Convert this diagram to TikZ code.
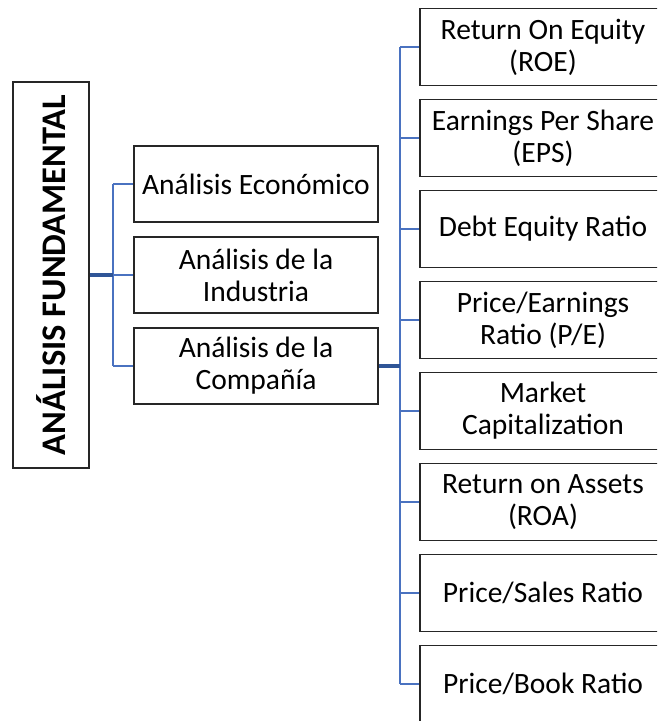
\documentclass[tikz,border=0pt]{standalone}
\usepackage{fontspec}
\setmainfont{Carlito}
\usetikzlibrary{positioning,calc}
\definecolor{lnkBlue}{HTML}{4A72C0}
\definecolor{busBlue}{HTML}{2F5597}
\begin{document}
\begin{tikzpicture}[x=1pt,y=-1pt,
  box/.style={draw=black!85,line width=1.8pt,fill=white,align=center,inner sep=0pt,
    font=\fontsize{29.5}{32}\selectfont},
  lvl/.style={box,minimum width=244pt,minimum height=76pt},
  rat/.style={box,minimum width=246pt,minimum height=77pt},
  ttl/.style={box,rotate=90,minimum width=386pt,minimum height=76pt,
    font=\fontsize{34.5}{40}\selectfont\bfseries},
  lnk/.style={lnkBlue,line width=2.8pt},
  bus/.style={busBlue,line width=4.5pt}]
  \useasboundingbox (0,0) rectangle (657,721);
  \clip (0,0) rectangle (657,721);
  \node[ttl] (title) at (51,275) {ANÁLISIS FUNDAMENTAL};
  \node[lvl] (eco) at (256,184) {Análisis Económico};
  \node[lvl] (ind) at (256,275) {Análisis de la\\ Industria};
  \node[lvl] (comp) at (256,366) {Análisis de la\\ Compañía};
  \node[rat] (roe) at (543,47) {Return On Equity\\ (ROE)};
  \node[rat] (eps) at (543,138) {Earnings Per Share\\ (EPS)};
  \node[rat] (der) at (543,229) {Debt Equity Ratio};
  \node[rat] (per) at (543,320) {Price/Earnings\\ Ratio (P/E)};
  \node[rat] (mcap) at (543,411) {Market\\ Capitalization};
  \node[rat] (roa) at (543,502) {Return on Assets\\ (ROA)};
  \node[rat] (psr) at (543,593) {Price/Sales Ratio};
  \node[rat] (pbr) at (543,684) {Price/Book Ratio};
  \coordinate (busL) at (113,275);
  \coordinate (busR) at (400,366);
  \draw[lnk] (busL |- eco.west) -- (busL |- comp.west);
  \foreach \n in {eco,ind,comp}{\draw[lnk] (busL |- \n.west) -- (\n.west);}
  \draw[bus] (title.south) -- (title.south -| busL);
  \draw[lnk] (busR |- roe.west) -- (busR |- pbr.west);
  \foreach \n in {roe,eps,der,per,mcap,roa,psr,pbr}{\draw[lnk] (busR |- \n.west) -- (\n.west);}
  \draw[bus] (comp.east) -- (busR);
\end{tikzpicture}
\end{document}
